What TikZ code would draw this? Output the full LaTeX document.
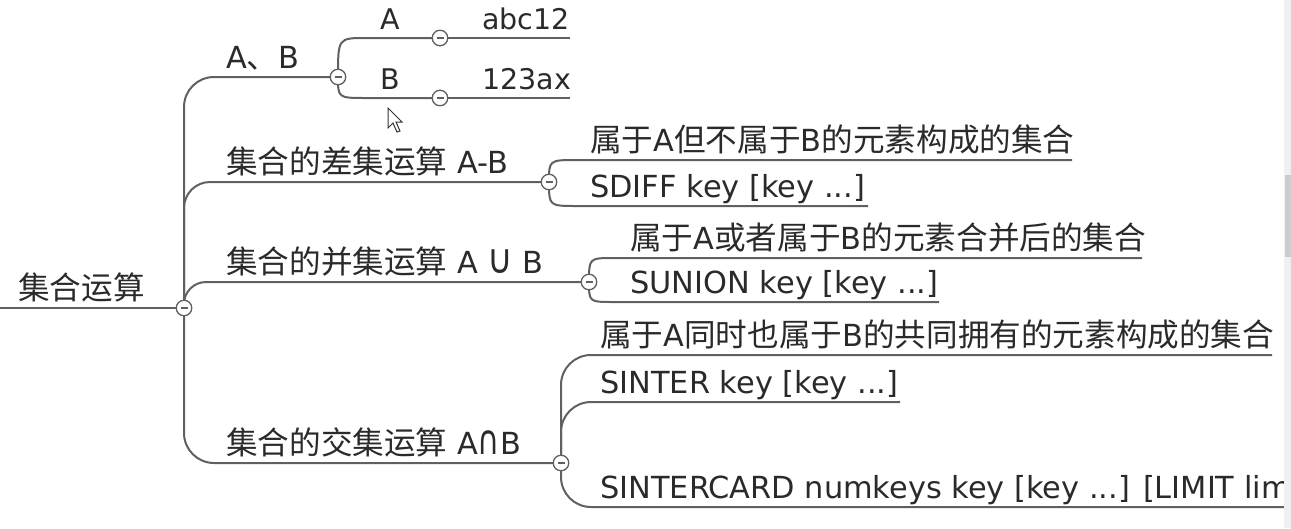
\documentclass[tikz,border=0pt]{standalone}
\usepackage{fontspec}
\setmainfont{DejaVu Sans}
\newfontfamily\cjk[Scale=1.04]{Noto Sans CJK SC}
\usetikzlibrary{calc}
\definecolor{ln}{HTML}{606060}
\definecolor{tx}{HTML}{2A2A2A}
\definecolor{sbar}{HTML}{F0F0F0}
\definecolor{sthumb}{HTML}{CDCDCD}
\newcommand{\mycup}{\scalebox{1.15}[1.35]{∪}}
\newcommand{\mycap}{\scalebox{1.0}[1.35]{∩}}
\pgfdeclarelayer{bg}
\pgfsetlayers{bg,main}
\tikzset{
  conn/.style={draw=ln, line width=2pt},
  fold/.style={circle, draw=ln, fill=white, line width=1.3pt, minimum size=15.5pt, inner sep=0pt,
    path picture={\draw[ln, line width=1.4pt] ([xshift=-3.5pt]path picture bounding box.center) -- ([xshift=3.5pt]path picture bounding box.center);}},
  topic/.style={anchor=base west, inner sep=0pt, text=tx, font=\fontsize{30.4}{36}\selectfont},
  small/.style={font=\fontsize{28.5}{34}\selectfont},
}
\begin{document}
\begin{tikzpicture}[x=1pt,y=-1pt]
\useasboundingbox (0,0) rectangle (1291,528);
\begin{scope}
\clip (0,0) rectangle (1284,528);
% root
\node[topic] (root) at (18,299) {\cjk 集合运算};
\coordinate (r0) at (0,308);
\node[fold] (c0) at (184,308) {};
% level 1
\node[topic] (t1) at (226,68) {A{\cjk 、}B};
\node[fold] (c1) at (338,77) {};
\node[topic] (t2) at (226,173) {{\cjk 集合的差集运算} A-B};
\node[fold] (c2) at (549,182) {};
\node[topic] (t3) at (226,273) {{\cjk 集合的并集运算} A \mycup{} B};
\node[fold] (c3) at (589,282) {};
\node[topic] (t4) at (226,454) {{\cjk 集合的交集运算} A\mycap{}B};
\node[fold] (c4) at (561,463) {};
% A, B
\node[topic, small] (a) at (380,29) {A};
\node[fold] (ca) at (440,38) {};
\node[topic, small] (b) at (380,89) {B};
\node[fold] (cb) at (440,98) {};
\node[topic, small] (a1) at (482,29) {abc12};
\coordinate (a1e) at (570,38);
\node[topic, small] (b1) at (482,89) {123ax};
\coordinate (b1e) at (570,98);
% difference
\node[topic] (d1) at (590,151) {{\cjk 属于}A{\cjk 但不属于}B{\cjk 的元素构成的集合}};
\coordinate (d1e) at (1072,160);
\node[topic] (d2) at (590,197) {SDIFF key [key ...]};
\coordinate (d2e) at (868,206);
% union
\node[topic] (u1) at (630,249) {{\cjk 属于}A{\cjk 或者属于}B{\cjk 的元素合并后的集合}};
\coordinate (u1e) at (1142,258);
\node[topic] (u2) at (630,293) {SUNION key [key ...]};
\coordinate (u2e) at (939,302);
% intersection
\node[topic] (i1) at (600,346) {{\cjk 属于}A{\cjk 同时也属于}B{\cjk 的共同拥有的元素构成的集合}};
\coordinate (i1e) at (1272,355);
\node[topic] (i2) at (600,393) {SINTER key [key ...]};
\coordinate (i2e) at (900,402);
\node[topic] (i3) at (600,498) {SINTERCARD numkeys key [key ...] [LIMIT limit]};
\coordinate (i3e) at (1300,507);

\begin{pgfonlayer}{bg}
\draw[conn] (r0) -- (c0.center);
\draw[conn, rounded corners=30pt] (c0.center) |- (c1.center);
\draw[conn, rounded corners=26pt] (c0.center) |- (c2.center);
\draw[conn, rounded corners=22pt] (c0.center) |- (c3.center);
\draw[conn, rounded corners=30pt] (c0.center) |- (c4.center);
% A,B children
\draw[conn] (c1.center) .. controls (c1.center |- ca.center) .. ($(c1.center |- ca.center)+(28,0)$) -- (ca.center);
\draw[conn] (c1.center) .. controls (c1.center |- cb.center) .. ($(c1.center |- cb.center)+(28,0)$) -- (cb.center);
\draw[conn] (ca.center) -- (a1e);
\draw[conn] (cb.center) -- (b1e);
% difference children
\draw[conn] (c2.center) .. controls (c2.center |- d1e) .. ($(c2.center |- d1e)+(28,0)$) -- (d1e);
\draw[conn] (c2.center) .. controls (c2.center |- d2e) .. ($(c2.center |- d2e)+(28,0)$) -- (d2e);
% union children
\draw[conn] (c3.center) .. controls (c3.center |- u1e) .. ($(c3.center |- u1e)+(25,0)$) -- (u1e);
\draw[conn] (c3.center) .. controls (c3.center |- u2e) .. ($(c3.center |- u2e)+(25,0)$) -- (u2e);
% intersection children
\draw[conn, rounded corners=30pt] (c4.center) |- (i1e);
\draw[conn, rounded corners=30pt] (c4.center) |- (i2e);
\draw[conn, rounded corners=30pt] (c4.center) |- (i3e);
\end{pgfonlayer}
\end{scope}
% mouse pointer
\draw[fill=white, draw=black!80, line width=1pt, line join=miter]
  (388,108) -- (388,128) -- (393,123) -- (397,132) -- (400,131) -- (396,122) -- (402,122) -- cycle;
% scrollbar
\fill[sbar] (1284,0) rectangle (1291,528);
\fill[sthumb] (1285,175) rectangle (1291,257);
\end{tikzpicture}
\end{document}
